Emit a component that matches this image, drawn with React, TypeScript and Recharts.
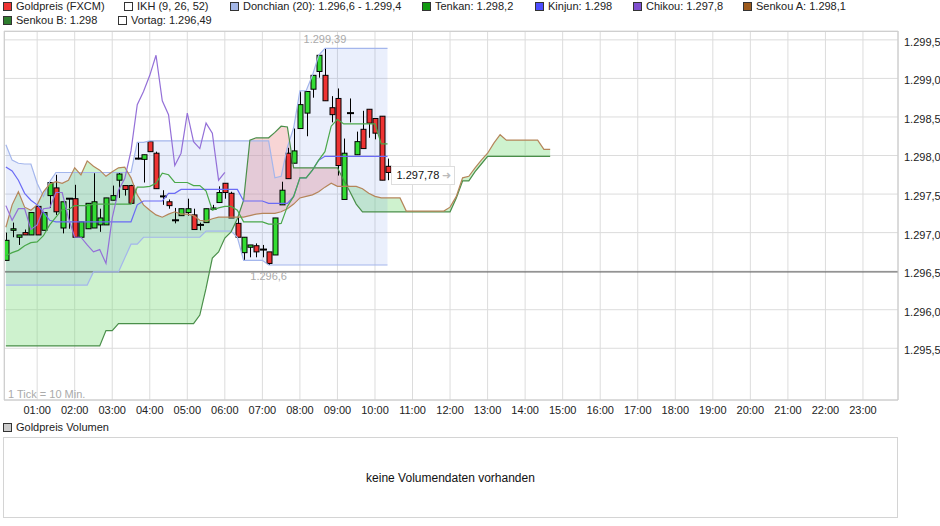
import {
  Area,
  Bar,
  CartesianGrid,
  ComposedChart,
  Line,
  ReferenceDot,
  ReferenceLine,
  XAxis,
  YAxis,
} from "recharts";

const FONT = "'Liberation Sans', Arial, Helvetica, sans-serif";

// 1 Tick = 10 Min.: Kerzen 00:10 .. 10:20, Wolke 26 Ticks weiter bis 14:40
const slotMinutes = Array.from({ length: 88 }, (_, i) => (i + 1) * 10);

const open = [
  1296.64, 1297.03, 1296.94, 1297.0, 1296.97, 1297.34, 1297.03, 1297.48, 1297.58, 1297.06,
  1297.44, 1297.44, 1296.94, 1297.05, 1297.06, 1297.1, 1297.1, 1297.42, 1297.68, 1297.61,
  1297.61, 1297.96, 1297.95, 1298.18, 1298.03, 1297.47, 1297.4, 1297.16, 1297.22, 1297.26,
  1297.23, 1297.1, 1297.13, 1297.3, 1297.39, 1297.64, 1297.51, 1297.12, 1296.74, 1296.81,
  1296.83, 1296.78, 1296.75, 1296.71, 1297.36, 1298.03, 1297.9, 1298.35, 1298.55, 1298.86,
  1299.09, 1299.04, 1298.62, 1298.74, 1297.43, 1298.55, 1298.01, 1298.34, 1298.6, 1298.48,
  1298.51, 1297.86,
];
const high = [
  1297.0, 1297.13, 1296.97, 1297.04, 1297.26, 1297.34, 1297.26, 1297.65, 1297.75, 1297.4,
  1297.44, 1297.62, 1297.14, 1297.38, 1297.77, 1297.31, 1297.45, 1297.61, 1297.78, 1297.61,
  1297.62, 1298.17, 1298.01, 1298.18, 1298.05, 1297.55, 1297.43, 1297.32, 1297.31, 1297.44,
  1297.31, 1297.13, 1297.31, 1297.36, 1297.6, 1297.64, 1297.53, 1297.2, 1296.94, 1296.84,
  1296.86, 1296.84, 1296.75, 1297.19, 1297.66, 1298.1, 1298.35, 1298.83, 1298.83, 1299.04,
  1299.3, 1299.39, 1298.77, 1298.87, 1298.22, 1298.74, 1298.31, 1298.58, 1298.6, 1298.48,
  1298.51, 1297.96,
];
const low = [
  1296.64, 1296.94, 1296.84, 1296.97, 1296.97, 1296.97, 1297.03, 1297.32, 1297.23, 1296.99,
  1297.05, 1296.94, 1296.94, 1297.05, 1297.06, 1297.01, 1297.1, 1297.42, 1297.45, 1297.48,
  1297.38, 1297.95, 1297.65, 1298.05, 1297.57, 1297.36, 1297.31, 1297.12, 1297.22, 1297.22,
  1297.04, 1297.03, 1297.13, 1297.3, 1297.39, 1297.44, 1297.19, 1296.94, 1296.64, 1296.68,
  1296.68, 1296.68, 1296.58, 1296.71, 1297.36, 1297.7, 1297.9, 1298.35, 1298.25, 1298.75,
  1299.01, 1298.71, 1298.43, 1297.74, 1297.43, 1298.43, 1298.01, 1298.09, 1298.23, 1298.21,
  1297.68, 1297.68,
];
const close = [
  1296.9, 1297.05, 1296.97, 1296.97, 1297.26, 1296.97, 1297.26, 1297.65, 1297.27, 1297.4,
  1297.43, 1296.94, 1297.14, 1297.38, 1297.4, 1297.19, 1297.45, 1297.48, 1297.76, 1297.56,
  1297.38, 1297.95, 1298.01, 1298.05, 1297.57, 1297.47, 1297.35, 1297.16, 1297.31, 1297.31,
  1297.04, 1297.1, 1297.31, 1297.32, 1297.52, 1297.52, 1297.19, 1296.94, 1296.94, 1296.84,
  1296.75, 1296.78, 1296.6, 1297.19, 1297.55, 1297.7, 1298.06, 1298.66, 1298.83, 1299.04,
  1299.3, 1298.71, 1298.53, 1297.87, 1298.03, 1298.55, 1298.18, 1298.09, 1298.42, 1298.29,
  1297.68, 1297.78,
];

const tenkan = [
  1296.7, 1296.74, 1296.77, 1296.83, 1296.87, 1296.88, 1296.96, 1297.1, 1297.2, 1297.3,
  1297.3, 1297.35, 1297.35, 1297.35, 1297.37, 1297.37, 1297.37, 1297.37, 1297.37, 1297.37,
  1297.37, 1297.59, 1297.59, 1297.6, 1297.64, 1297.77, 1297.75, 1297.65, 1297.65, 1297.65,
  1297.61, 1297.61, 1297.54, 1297.29, 1297.32, 1297.34, 1297.34, 1297.29, 1297.14, 1297.14,
  1297.14, 1297.14, 1297.11, 1297.11, 1297.12, 1297.34, 1297.47, 1297.71, 1297.71, 1297.81,
  1297.94, 1298.05, 1298.38, 1298.47, 1298.41, 1298.41, 1298.41, 1298.41, 1298.41, 1298.41,
  1298.15, 1298.15,
];
const kinjun = [
  1297.85, 1297.8, 1297.68, 1297.51, 1297.42, 1297.36, 1297.27, 1297.16, 1297.14, 1297.14,
  1297.14, 1297.14, 1297.14, 1297.14, 1297.14, 1297.14, 1297.14, 1297.14, 1297.14, 1297.14,
  1297.14, 1297.36, 1297.41, 1297.41, 1297.41, 1297.41, 1297.51, 1297.51, 1297.56, 1297.56,
  1297.56, 1297.56, 1297.56, 1297.56, 1297.56, 1297.56, 1297.56, 1297.56, 1297.41, 1297.41,
  1297.41, 1297.41, 1297.38, 1297.38, 1297.38, 1297.38, 1297.47, 1297.71, 1297.71, 1297.81,
  1297.94, 1297.99, 1297.99, 1297.99, 1297.99, 1297.99, 1297.99, 1297.99, 1297.99, 1297.99,
  1297.99, 1297.99,
];
const chikou = [
  1297.35, 1297.16, 1297.31, 1297.31, 1297.04, 1297.1, 1297.31, 1297.32, 1297.52, 1297.52,
  1297.19, 1296.94, 1296.94, 1296.84, 1296.75, 1296.78, 1296.6, 1297.19, 1297.55, 1297.7,
  1298.06, 1298.66, 1298.83, 1299.04, 1299.3, 1298.71, 1298.53, 1297.87, 1298.03, 1298.55,
  1298.18, 1298.09, 1298.42, 1298.29, 1297.68, 1297.78,
];
const donchianHigh = [
  1298.14, 1297.94, 1297.9, 1297.89, 1297.89, 1297.64, 1297.47, 1297.66, 1297.78, 1297.78,
  1297.78, 1297.78, 1297.78, 1297.78, 1297.78, 1297.78, 1297.78, 1297.78, 1297.78, 1297.78,
  1297.78, 1298.17, 1298.17, 1298.19, 1298.19, 1298.19, 1298.19, 1298.19, 1298.19, 1298.19,
  1298.19, 1298.19, 1298.19, 1298.19, 1298.19, 1298.19, 1298.19, 1298.19, 1298.19, 1298.19,
  1298.19, 1298.19, 1298.19, 1297.71, 1297.73, 1298.11, 1298.36, 1298.84, 1298.84, 1299.04,
  1299.3, 1299.39, 1299.39, 1299.39, 1299.39, 1299.39, 1299.39, 1299.39, 1299.39, 1299.39,
  1299.39, 1299.39,
];
const donchianLow = [
  1296.32, 1296.32, 1296.32, 1296.32, 1296.32, 1296.32, 1296.32, 1296.32, 1296.32, 1296.32,
  1296.32, 1296.32, 1296.32, 1296.32, 1296.49, 1296.49, 1296.49, 1296.49, 1296.49, 1296.67,
  1296.85, 1296.85, 1296.94, 1296.94, 1296.94, 1296.94, 1296.94, 1296.94, 1296.94, 1296.94,
  1296.94, 1296.94, 1297.02, 1297.02, 1297.02, 1297.02, 1297.02, 1296.94, 1296.64, 1296.64,
  1296.64, 1296.64, 1296.58, 1296.58, 1296.58, 1296.58, 1296.58, 1296.58, 1296.58, 1296.58,
  1296.58, 1296.58, 1296.58, 1296.58, 1296.58, 1296.58, 1296.58, 1296.58, 1296.58, 1296.58,
  1296.58, 1296.58,
];
const senkouA = [
  1297.07, 1297.36, 1297.53, 1297.33, 1297.29, 1297.36, 1297.53, 1297.63, 1297.66, 1297.64,
  1297.68, 1297.84, 1297.75, 1297.93, 1297.86, 1297.81, 1297.73, 1297.79, 1297.84, 1297.85,
  1297.71, 1297.49, 1297.36, 1297.29, 1297.23, 1297.2, 1297.24, 1297.27, 1297.24, 1297.24,
  1297.22, 1297.16, 1297.15, 1297.18, 1297.2, 1297.2, 1297.2, 1297.2, 1297.2, 1297.22,
  1297.24, 1297.25, 1297.25, 1297.25, 1297.27, 1297.31, 1297.37, 1297.45, 1297.47, 1297.49,
  1297.53, 1297.59, 1297.64, 1297.6, 1297.6, 1297.6, 1297.6, 1297.57, 1297.51, 1297.47,
  1297.45, 1297.45, 1297.45, 1297.45, 1297.28, 1297.28, 1297.28, 1297.28, 1297.28, 1297.28,
  1297.28, 1297.33, 1297.47, 1297.71, 1297.73, 1297.84, 1297.94, 1298.03, 1298.16, 1298.27,
  1298.2, 1298.2, 1298.2, 1298.2, 1298.2, 1298.2, 1298.08, 1298.08,
];
const senkouB = [
  1295.53, 1295.53, 1295.53, 1295.53, 1295.53, 1295.53, 1295.53, 1295.53, 1295.53, 1295.53,
  1295.53, 1295.53, 1295.53, 1295.53, 1295.53, 1295.53, 1295.73, 1295.73, 1295.82, 1295.82,
  1295.82, 1295.82, 1295.82, 1295.82, 1295.82, 1295.82, 1295.82, 1295.82, 1295.82, 1295.82,
  1295.82, 1295.93, 1296.28, 1296.67, 1296.75, 1296.93, 1297.01, 1297.18, 1297.42, 1298.2,
  1298.23, 1298.23, 1298.23, 1298.3, 1298.38, 1298.37, 1297.84, 1297.84, 1297.84, 1297.84,
  1297.84, 1297.84, 1297.84, 1297.84, 1297.68, 1297.53, 1297.37, 1297.27, 1297.27, 1297.27,
  1297.27, 1297.27, 1297.27, 1297.27, 1297.27, 1297.27, 1297.27, 1297.27, 1297.27, 1297.27,
  1297.27, 1297.27, 1297.45, 1297.67, 1297.67, 1297.79, 1297.89, 1297.99, 1297.99, 1297.99,
  1297.99, 1297.99, 1297.99, 1297.99, 1297.99, 1297.99, 1297.99, 1297.99,
];

const vortag = 1296.49;
const hourTicks = [
  60, 120, 180, 240, 300, 360, 420, 480, 540, 600, 660, 720, 780, 840, 900, 960, 1020, 1080,
  1140, 1200, 1260, 1320, 1380,
];
const priceTicks = [1295.5, 1296, 1296.5, 1297, 1297.5, 1298, 1298.5, 1299, 1299.5];

const GREEN = "#33dd33";
const RED = "#ee3333";

function de(v: number, digits: number) {
  const [i, f] = v.toFixed(digits).split(".");
  const int = i.replace(/\B(?=(\d{3})+(?!\d))/g, ".");
  return f ? `${int},${f}` : int;
}

const rows = slotMinutes.map((t, i) => {
  const hasCandle = i < open.length;
  const a = senkouA[i];
  const b = senkouB[i];
  return {
    t,
    open: hasCandle ? open[i] : null,
    high: hasCandle ? high[i] : null,
    low: hasCandle ? low[i] : null,
    close: hasCandle ? close[i] : null,
    candle: hasCandle ? [low[i], high[i]] : null,
    tenkan: i < tenkan.length ? tenkan[i] : null,
    kinjun: i < kinjun.length ? kinjun[i] : null,
    chikou: i < chikou.length ? chikou[i] : null,
    dHigh: i < donchianHigh.length ? donchianHigh[i] : null,
    dLow: i < donchianLow.length ? donchianLow[i] : null,
    donch: i < donchianHigh.length ? [donchianLow[i], donchianHigh[i]] : null,
    senkouA: a,
    senkouB: b,
    cloudUp: [b, Math.max(a, b)],
    cloudDown: [a, Math.max(a, b)],
  };
});

const lastIdx = open.length - 1;
const maxIdx = high.indexOf(Math.max(...high));
const minIdx = low.indexOf(Math.min(...low));

function Candle(props: any) {
  const { x, y, width, height, payload } = props;
  if (!payload || payload.open == null) return <g />;
  const { open: o, high: h, low: l, close: c } = payload;
  const top = Math.min(y, y + height);
  const span = Math.abs(height);
  const k = h > l ? span / (h - l) : 0;
  const py = (v: number) => top + (h - v) * k;
  const cx = Math.round(x + width / 2) + 0.5;
  const bTop = py(Math.max(o, c));
  const bBot = py(Math.min(o, c));
  const doji = bBot - bTop < 1.2;
  return (
    <g>
      <line x1={cx} x2={cx} y1={py(h)} y2={py(l)} stroke="#000" strokeWidth={1} />
      {doji ? (
        <rect x={cx - 3.5} y={bTop - 1} width={7} height={2} fill="#000" />
      ) : (
        <rect
          x={cx - 2.5}
          y={bTop}
          width={5}
          height={bBot - bTop}
          fill={c > o ? GREEN : RED}
          stroke="#000"
          strokeWidth={1}
        />
      )}
    </g>
  );
}

function Swatch({ color }: { color: string }) {
  return (
    <span
      style={{
        display: "inline-block",
        width: 7,
        height: 7,
        background: color,
        border: "1px solid #333",
        marginRight: 4,
        verticalAlign: -1,
      }}
    />
  );
}

const legendTop = [
  { x: 3, color: RED, text: "Goldpreis (FXCM)" },
  { x: 124, color: "#ffffff", text: "IKH (9, 26, 52)" },
  { x: 230, color: "#a3b6e6", text: `Donchian (20): ${de(1296.6, 1)} - ${de(1299.4, 1)}` },
  { x: 422, color: "#119911", text: `Tenkan: ${de(1298.2, 1)}` },
  { x: 535, color: "#4d4dff", text: "Kinjun: 1.298" },
  { x: 633, color: "#7f4fcf", text: `Chikou: ${de(1297.8, 1)}` },
  { x: 743, color: "#9c5a1c", text: `Senkou A: ${de(1298.1, 1)}` },
];
const legendBottom = [
  { x: 3, color: "#2e7d2e", text: "Senkou B: 1.298" },
  { x: 118, color: "#ffffff", text: `Vortag: ${de(vortag, 2)}` },
];

export default function App() {
  const textStyle = { fontFamily: FONT, fontSize: 11, fill: "#222" };
  return (
    <div style={{ position: "relative", width: 940, height: 526, fontFamily: FONT, background: "#fff" }}>
      <style>{"body{margin:0}"}</style>
      {[...legendTop.map((l) => ({ ...l, top: 0 })), ...legendBottom.map((l) => ({ ...l, top: 14 }))].map((l) => (
        <div
          key={l.text}
          style={{
            position: "absolute",
            left: l.x,
            top: l.top,
            fontSize: 11,
            lineHeight: "13px",
            color: "#222",
            whiteSpace: "nowrap",
          }}
        >
          <Swatch color={l.color} />
          {l.text}
        </div>
      ))}

      <ComposedChart
        width={940}
        height={430}
        data={rows}
        margin={{ top: 31, right: 0, bottom: 10, left: 4 }}
        style={{ position: "absolute", left: 0, top: 0 }}
      >
        <CartesianGrid stroke="#dcdcdc" strokeWidth={1} />
        <XAxis
          type="number"
          dataKey="t"
          domain={[7, 1436]}
          allowDataOverflow
          ticks={hourTicks}
          tickFormatter={(v: number) => `${String(v / 60).padStart(2, "0")}:00`}
          tick={textStyle}
          tickLine={false}
          tickSize={4}
          axisLine={{ stroke: "#c8c8c8" }}
          height={20}
          interval={0}
        />
        <YAxis
          orientation="right"
          type="number"
          domain={[1294.829, 1299.615]}
          allowDataOverflow
          ticks={priceTicks}
          tickFormatter={(v: number) => de(v, 1)}
          tick={{ ...textStyle, dy: 2 }}
          tickLine={false}
          tickSize={4}
          axisLine={{ stroke: "#c8c8c8" }}
          width={42}
          interval={0}
        />

        <Area
          dataKey="cloudUp"
          stroke="none"
          fill="#7fdc7f"
          fillOpacity={0.38}
          isAnimationActive={false}
          activeDot={false}
        />
        <Area
          dataKey="cloudDown"
          stroke="none"
          fill="#ef9a9a"
          fillOpacity={0.42}
          isAnimationActive={false}
          activeDot={false}
        />
        <Area
          dataKey="donch"
          stroke="none"
          fill="#5a82e6"
          fillOpacity={0.13}
          isAnimationActive={false}
          activeDot={false}
        />

        <ReferenceLine y={vortag} stroke="#555" strokeWidth={1} />

        <Line dataKey="dHigh" stroke="#a4b6ec" strokeWidth={1.2} dot={false} activeDot={false} isAnimationActive={false} />
        <Line dataKey="dLow" stroke="#a4b6ec" strokeWidth={1.2} dot={false} activeDot={false} isAnimationActive={false} />
        <Line dataKey="senkouB" stroke="#4a8f4a" strokeWidth={1.2} dot={false} activeDot={false} isAnimationActive={false} />
        <Line dataKey="senkouA" stroke="#b5855a" strokeWidth={1.2} dot={false} activeDot={false} isAnimationActive={false} />
        <Line dataKey="kinjun" stroke="#6b6bf5" strokeWidth={1.2} dot={false} activeDot={false} isAnimationActive={false} />
        <Line dataKey="tenkan" stroke="#4aa84a" strokeWidth={1.2} dot={false} activeDot={false} isAnimationActive={false} />
        <Line dataKey="chikou" stroke="#9470d8" strokeWidth={1.2} dot={false} activeDot={false} isAnimationActive={false} />

        <Bar dataKey="candle" barSize={5} shape={Candle} isAnimationActive={false} />

        <ReferenceDot
          x={slotMinutes[maxIdx]}
          y={high[maxIdx]}
          r={0}
          shape={(p: any) => (
            <text x={p.cx} y={p.cy - 5} textAnchor="middle" style={{ ...textStyle, fill: "#aaa" }}>
              {de(high[maxIdx], 2)}
            </text>
          )}
        />
        <ReferenceDot
          x={slotMinutes[minIdx]}
          y={low[minIdx]}
          r={0}
          shape={(p: any) => (
            <text x={p.cx} y={p.cy + 15} textAnchor="middle" style={{ ...textStyle, fill: "#aaa" }}>
              {de(1296.6, 1)}
            </text>
          )}
        />
        <ReferenceDot
          x={slotMinutes[lastIdx]}
          y={close[lastIdx]}
          r={0}
          shape={(p: any) => (
            <g>
              <rect x={p.cx + 4} y={p.cy - 6} width={63} height={18} fill="#fff" stroke="#ddd" />
              <text x={p.cx + 9} y={p.cy + 7} style={{ ...textStyle, fill: "#111" }}>
                {de(close[lastIdx], 2)}
              </text>
              <text x={p.cx + 54} y={p.cy + 7} style={{ ...textStyle, fill: "#bbb" }}>
                ➜
              </text>
            </g>
          )}
        />
      </ComposedChart>

      <div
        style={{
          position: "absolute",
          left: 4,
          top: 31,
          width: 893,
          height: 368,
          border: "1px solid #cfcfcf",
          borderRight: "none",
          borderBottom: "none",
          pointerEvents: "none",
        }}
      />
      <div style={{ position: "absolute", left: 8, top: 388, fontSize: 11, color: "#aaa" }}>1 Tick = 10 Min.</div>

      <div style={{ position: "absolute", left: 3, top: 421, fontSize: 11, lineHeight: "13px", color: "#222" }}>
        <Swatch color="#cccccc" />
        Goldpreis Volumen
      </div>
      <div
        style={{
          position: "absolute",
          left: 3,
          top: 437,
          width: 893,
          height: 79,
          border: "1px solid #d4d4d4",
          display: "flex",
          alignItems: "center",
          justifyContent: "center",
          fontSize: 12,
          color: "#111",
        }}
      >
        keine Volumendaten vorhanden
      </div>
    </div>
  );
}
